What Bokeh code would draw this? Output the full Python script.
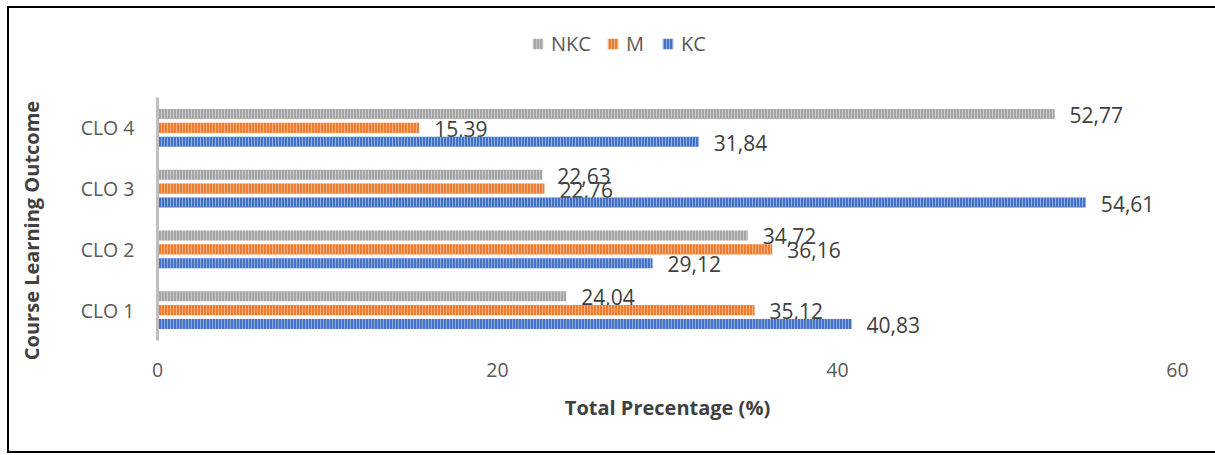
from bokeh.plotting import figure
from bokeh.models import ColumnDataSource, Range1d, Legend, LegendItem, FixedTicker, InlineStyleSheet
from bokeh.transform import dodge
from bokeh.core.properties import value
from bokeh.embed import file_html
from bokeh.resources import INLINE

categories = ["CLO 1", "CLO 2", "CLO 3", "CLO 4"]
series_names = ["NKC", "M", "KC"]
nkc = [24.04, 34.72, 22.63, 52.77]
m = [35.12, 36.16, 22.76, 15.39]
kc = [40.83, 29.12, 54.61, 31.84]
x_ticks = [0, 20, 40, 60]

colors = {"NKC": "#A5A5A5", "M": "#ED7D31", "KC": "#4472C4"}
offsets = {"NKC": 0.23, "M": 0.0, "KC": -0.23}
values = {"NKC": nkc, "M": m, "KC": kc}
ypos = list(range(len(categories)))

FONT = "Open Sans"

# frame: x 157..1177, y 20..340 ; one category = 60.75 px, categories occupy 97..340
p = figure(width=1215, height=455, output_backend="svg", toolbar_location=None,
           x_range=Range1d(0, 60), y_range=Range1d(-0.5, 3.5 + 77 / 60.75),
           min_border_left=157, min_border_right=38, min_border_top=20, min_border_bottom=115)
p.title.visible = False
p.stylesheets = [InlineStyleSheet(css="""
:host { position: relative; overflow: hidden; }
:host::after { content: ""; position: absolute; left: 7px; top: 6px; right: -10px; bottom: 2px;
  border: 2px solid black; pointer-events: none; z-index: 10; }
""")]
p.outline_line_color = None
p.xgrid.grid_line_color = None
p.ygrid.grid_line_color = None

items = []
for name in series_names:
    src = ColumnDataSource(dict(y=ypos, x=values[name],
                                lab=[f"{v:.2f}".replace(".", ",") for v in values[name]]))
    r = p.hbar(y=dodge("y", offsets[name]), right="x", left=0, height=0.165,
               source=src, fill_color=colors[name], line_color=None,
               hatch_pattern="vertical_line", hatch_color="white", hatch_alpha=0.4,
               hatch_scale=3, hatch_weight=1)
    p.text(x="x", y=dodge("y", offsets[name]), text="lab", source=src,
           x_offset=15, y_offset=1, text_baseline="middle", text_align="left",
           text_font_size="21px", text_color="#404040", text_font=value(FONT))
    items.append(LegendItem(label=name, renderers=[r]))

legend = Legend(items=items, orientation="horizontal", location=(374, 283),
                label_text_font=FONT, label_text_font_size="20px", label_text_color="#595959",
                glyph_width=13, glyph_height=13, spacing=15, label_standoff=7,
                border_line_color=None, background_fill_alpha=0, padding=0, margin=0)
p.add_layout(legend, "center")

xa = p.xaxis[0]
xa.ticker = FixedTicker(ticks=x_ticks)
xa.axis_line_color = None
xa.major_tick_line_color = None
xa.minor_tick_line_color = None
xa.major_label_text_font = FONT
xa.major_label_text_font_size = "19.5px"
xa.major_label_text_color = "#595959"
xa.major_label_standoff = 16
xa.axis_label = "Total Precentage (%)"
xa.axis_label_text_font = FONT
xa.axis_label_text_font_size = "20px"
xa.axis_label_text_font_style = "bold"
xa.axis_label_text_color = "#404040"
xa.axis_label_standoff = 14

ya = p.yaxis[0]
ya.ticker = FixedTicker(ticks=ypos)
ya.major_label_overrides = {i: c for i, c in zip(ypos, categories)}
ya.bounds = (-0.5, len(categories) - 0.5)
ya.axis_line_color = "#BFBFBF"
ya.axis_line_width = 3
ya.major_tick_line_color = None
ya.minor_tick_line_color = None
ya.major_label_text_font = FONT
ya.major_label_text_font_size = "19.5px"
ya.major_label_text_color = "#595959"
ya.major_label_standoff = 17
# trailing em spaces keep the title centred on the category band, as in the reference
ya.axis_label = "Course Learning Outcome" + "\u2003" * 5
ya.axis_label_text_font = FONT
ya.axis_label_text_font_size = "20px"
ya.axis_label_text_font_style = "bold"
ya.axis_label_text_color = "#404040"
ya.axis_label_standoff = 33

open("out.html", "w").write(file_html(p, INLINE))
